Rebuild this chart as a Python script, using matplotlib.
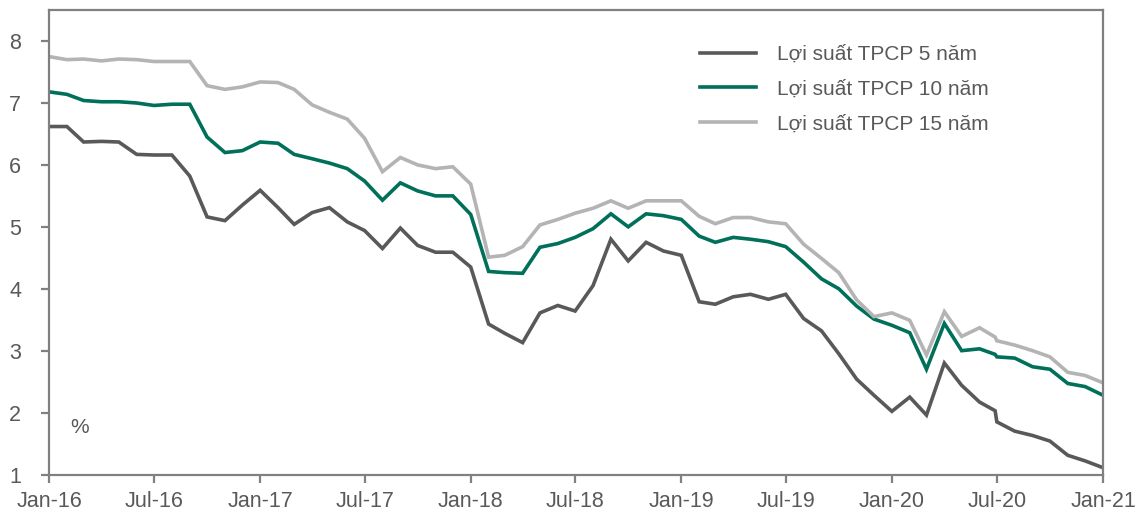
import matplotlib
matplotlib.use("Agg")
import matplotlib.pyplot as plt
import matplotlib.dates as mdates
import pandas as pd

plt.rcParams['font.family'] = ['Liberation Sans', 'DejaVu Sans']

# monthly observations Jan-16 .. Jan-21, with an extra print at end of Jun-20
dates = list(pd.date_range("2016-01-01", "2021-01-01", freq="MS"))
dates.insert(54, pd.Timestamp("2020-06-28"))

yield_5y = [6.62, 6.62, 6.37, 6.38, 6.37, 6.17, 6.16, 6.16, 5.82, 5.16,
            5.10, 5.35, 5.59, 5.31, 5.04, 5.23, 5.31, 5.08, 4.94, 4.65,
            4.98, 4.70, 4.59, 4.59, 4.35, 3.43, 3.28, 3.13, 3.61, 3.73,
            3.64, 4.05, 4.80, 4.45, 4.75, 4.61, 4.54, 3.79, 3.75, 3.87,
            3.91, 3.83, 3.91, 3.52, 3.32, 2.95, 2.54, 2.28, 2.02, 2.25,
            1.96, 2.80, 2.44, 2.17, 2.03, 1.85, 1.70, 1.63, 1.54, 1.31,
            1.22, 1.11]
yield_10y = [7.18, 7.14, 7.04, 7.02, 7.02, 7.00, 6.96, 6.98, 6.98, 6.45,
             6.20, 6.23, 6.37, 6.35, 6.17, 6.10, 6.03, 5.94, 5.74, 5.43,
             5.71, 5.58, 5.50, 5.50, 5.20, 4.28, 4.26, 4.25, 4.67, 4.73,
             4.83, 4.97, 5.21, 5.00, 5.21, 5.18, 5.12, 4.85, 4.75, 4.83,
             4.80, 4.76, 4.68, 4.43, 4.16, 4.00, 3.72, 3.51, 3.41, 3.29,
             2.70, 3.44, 3.00, 3.03, 2.94, 2.90, 2.88, 2.74, 2.70, 2.47,
             2.42, 2.28]
yield_15y = [7.75, 7.70, 7.71, 7.68, 7.71, 7.70, 7.67, 7.67, 7.67, 7.28,
             7.22, 7.26, 7.34, 7.33, 7.22, 6.97, 6.85, 6.74, 6.43, 5.89,
             6.12, 6.00, 5.94, 5.97, 5.69, 4.51, 4.54, 4.68, 5.03, 5.12,
             5.22, 5.30, 5.42, 5.30, 5.42, 5.42, 5.42, 5.17, 5.05, 5.15,
             5.15, 5.08, 5.05, 4.72, 4.49, 4.26, 3.82, 3.55, 3.61, 3.49,
             2.93, 3.63, 3.23, 3.37, 3.22, 3.16, 3.09, 3.00, 2.90, 2.65,
             2.60, 2.48]

labels = ["Lợi suất TPCP 5 năm", "Lợi suất TPCP 10 năm", "Lợi suất TPCP 15 năm"]
colors = ["#595959", "#00705A", "#B4B4B4"]

fig = plt.figure(figsize=(11.37, 5.16), dpi=100)
ax = fig.add_axes([0.0431, 0.0804, 0.927, 0.9])

for vals, lab, col in zip([yield_5y, yield_10y, yield_15y], labels, colors):
    ax.plot(dates, vals, color=col, lw=2.6, label=lab, solid_joinstyle="miter")

ax.set_xlim(pd.Timestamp("2016-01-01"), pd.Timestamp("2021-01-01"))
ax.set_ylim(1, 8.5)
ax.set_yticks(range(1, 9))
ax.xaxis.set_major_locator(mdates.MonthLocator(bymonth=[1, 7]))
ax.xaxis.set_major_formatter(mdates.DateFormatter("%b-%y"))

grey = "#808080"
for s in ax.spines.values():
    s.set_color(grey)
    s.set_linewidth(1.6)
ax.tick_params(colors=grey, width=1.6, length=6, labelsize=15.5,
               labelcolor="#595959")
ax.tick_params(axis="y", pad=14)
ax.tick_params(axis="x", pad=6)

ax.text(0.02, 0.09, "%", transform=ax.transAxes, fontsize=15, color="#595959")

leg = ax.legend(loc="upper left", bbox_to_anchor=(0.6, 0.965), frameon=False,
                fontsize=15, labelcolor="#595959", handlelength=2.7,
                handletextpad=1.0, labelspacing=0.75)

fig.savefig("out.png", dpi=100)
